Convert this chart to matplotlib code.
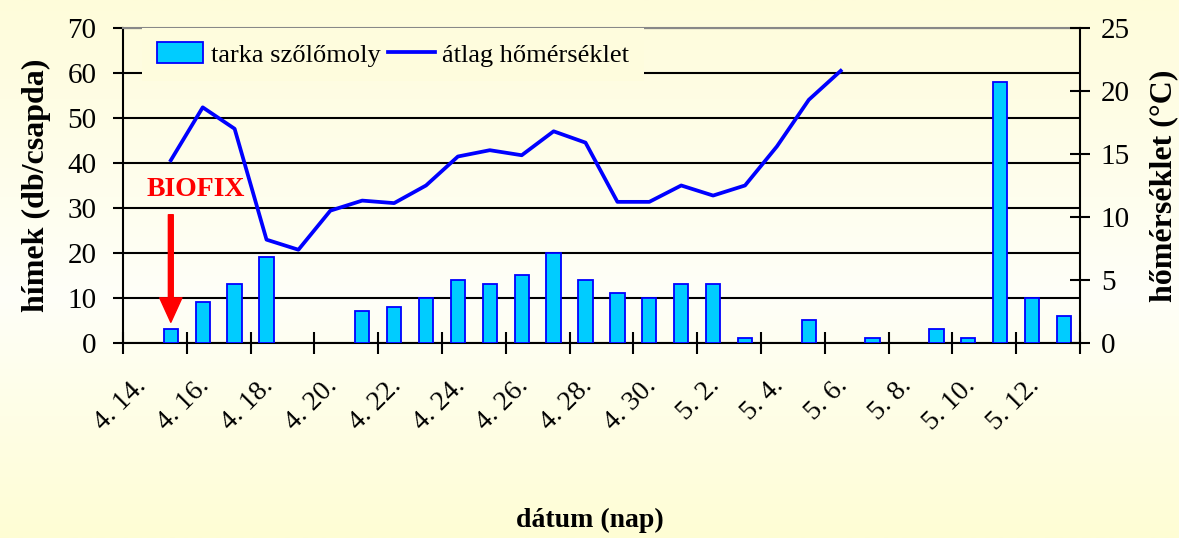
import numpy as np
import matplotlib
matplotlib.use("Agg")
import matplotlib.pyplot as plt
from matplotlib.transforms import ScaledTranslation
from matplotlib.patches import Patch
from matplotlib.lines import Line2D

# daily data, 4.14 - 5.13
days = ['4. 14.', '4. 15.', '4. 16.', '4. 17.', '4. 18.', '4. 19.', '4. 20.',
        '4. 21.', '4. 22.', '4. 23.', '4. 24.', '4. 25.', '4. 26.', '4. 27.',
        '4. 28.', '4. 29.', '4. 30.', '5. 1.', '5. 2.', '5. 3.', '5. 4.',
        '5. 5.', '5. 6.', '5. 7.', '5. 8.', '5. 9.', '5. 10.', '5. 11.',
        '5. 12.', '5. 13.']
moths = [0, 3, 9, 13, 19, 0, 0, 7, 8, 10, 14, 13, 15, 20, 14, 11, 10, 13, 13,
         1, 0, 5, 0, 1, 0, 3, 1, 58, 10, 6]
nan = np.nan
temp = [nan, 14.5, 18.7, 17.0, 8.2, 7.4, 10.5, 11.3, 11.1, 12.5, 14.8, 15.3,
        14.9, 16.8, 15.9, 11.2, 11.2, 12.5, 11.7, 12.5, 15.6, 19.3, 21.6,
        nan, nan, nan, nan, nan, nan, nan]

SERIF = ['Liberation Serif', 'DejaVu Serif']
plt.rcParams['font.family'] = SERIF

fig = plt.figure(figsize=(11.79, 5.38), dpi=100)

# background gradient (cream - white - cream)
bg = fig.add_axes([0, 0, 1, 1], zorder=-10)
top_c = np.array([254, 252, 218]) / 255
mid_c = np.array([255, 255, 248]) / 255
bot_c = np.array([254, 253, 212]) / 255
t = np.linspace(0, 1, 300)[:, None]
grad = np.where(t < 0.55, top_c + (mid_c - top_c) * (t / 0.55),
                mid_c + (bot_c - mid_c) * ((t - 0.55) / 0.45))
bg.imshow(grad.reshape(300, 1, 3), aspect='auto', extent=[0, 1, 0, 1])
bg.axis('off')

ax = fig.add_axes([0.1043, 0.3625, 0.8117, 0.5855])
ax.patch.set_alpha(0)
x = np.arange(len(days))

# days without catch get no bar (no outline at zero either)
heights = np.array(moths, dtype=float)
heights[heights == 0] = np.nan
ax.bar(x, heights, width=0.45, color='#00CCFF', edgecolor='#0000FF', linewidth=1.3, zorder=3)
ax.set_xlim(-0.5, len(days) - 0.5)
ax.set_ylim(0, 70)
ax.set_yticks(np.arange(0, 71, 10))
ax.yaxis.grid(True, color='black', linewidth=1.5)
ax.set_axisbelow(True)

ax.spines['top'].set_color('#888888')
for s in ['left', 'bottom', 'right', 'top']:
    ax.spines[s].set_linewidth(1.5)

# tick marks between categories, labels on every second day
ax.set_xticks(np.arange(-0.5, len(days), 2))
ax.set_xticklabels([])
ax.set_xticks(x[::2], minor=True)
ax.set_xticklabels(days[::2], minor=True, rotation=45, ha='right', va='top', fontsize=20)
ax.tick_params(axis='x', which='major', direction='inout', length=16, width=1.5)
ax.tick_params(axis='x', which='minor', length=0, pad=22)
for lab in ax.get_xticklabels(minor=True):
    lab.set_transform(lab.get_transform() + ScaledTranslation(0.12, 0, fig.dpi_scale_trans))

ax.tick_params(axis='y', direction='out', length=7, width=1.5, labelsize=21, pad=12)
ax.set_ylabel('hímek (db/csapda)', fontsize=23, fontweight='bold', labelpad=12)
fig.text(0.5, 0.033, 'dátum (nap)', fontsize=20, fontweight='bold', ha='center', va='center')

ax2 = ax.twinx()
ax2.plot(x, temp, color='#0000FF', linewidth=2.7, zorder=4)
ax2.set_ylim(0, 25)
ax2.set_yticks(np.arange(0, 26, 5))
ax2.tick_params(axis='y', direction='inout', length=14, width=1.5, labelsize=21, pad=8)
for s in ax2.spines.values():
    s.set_visible(False)
ax2.set_ylabel('hőmérséklet (°C)', fontsize=23, fontweight='bold', labelpad=14)

# BIOFIX marker
ax.text(1.78, 34, 'BIOFIX', color='#FF0000', fontsize=20, fontweight='bold',
        ha='center', va='center', zorder=6)
ax.annotate('', xy=(1, 4.6), xytext=(1, 28.5),
            arrowprops=dict(arrowstyle='simple,head_length=1.1,head_width=1.0,tail_width=0.22',
                            color='#FF0000', mutation_scale=16, shrinkA=0, shrinkB=0),
            zorder=6)

handles = [Patch(facecolor='#00CCFF', edgecolor='#0000FF', linewidth=1.3),
           Line2D([0], [0], color='#0000FF', linewidth=2.7)]
leg = ax2.legend(handles, ['tarka szőlőmoly', 'átlag hőmérséklet'], ncol=2,
                 loc='upper left', bbox_to_anchor=(0.02, 1.0), fontsize=19,
                 frameon=True, fancybox=False, handlelength=1.75, handleheight=0.8,
                 handletextpad=0.3, columnspacing=0.3, borderpad=0.55,
                 borderaxespad=0.0)
leg.get_frame().set_facecolor('#FEFCDD')
leg.get_frame().set_edgecolor('none')
leg.get_frame().set_alpha(1)
leg.set_zorder(10)

fig.savefig('out.png', dpi=100)
